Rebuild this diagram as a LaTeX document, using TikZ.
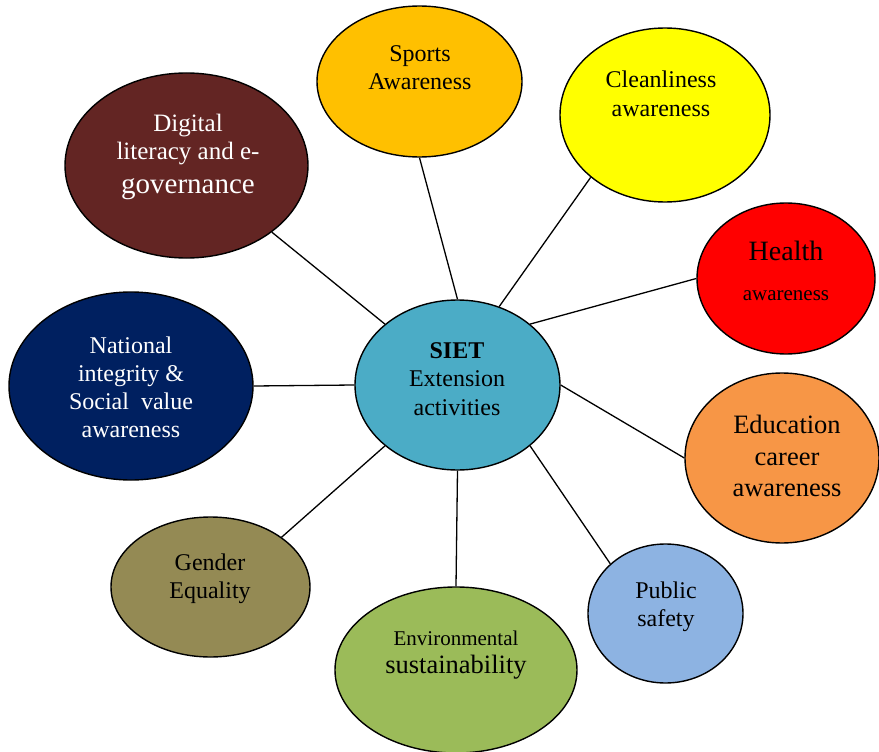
\documentclass[tikz,border=0pt]{standalone}
\usepackage{fontspec}
\setmainfont{Liberation Serif}
\usetikzlibrary{shapes.geometric}

\definecolor{sietblue}{HTML}{4BACC6}
\definecolor{sportsgold}{HTML}{FFC000}
\definecolor{cleanyellow}{HTML}{FFFF00}
\definecolor{digitalbrown}{HTML}{632523}
\definecolor{healthred}{HTML}{FF0000}
\definecolor{nationnavy}{HTML}{002060}
\definecolor{educorange}{HTML}{F79646}
\definecolor{publicblue}{HTML}{8DB3E2}
\definecolor{genderolive}{HTML}{948A54}
\definecolor{environgreen}{HTML}{9BBB59}

\newcommand{\fs}[2]{\rmfamily\fontsize{#1}{#2}\selectfont}

\begin{document}
\begin{tikzpicture}[x=1pt, y=-1pt,
  bubble/.style={ellipse, draw, line width=1.4pt, inner sep=0pt},
  txt/.style={align=center, inner sep=0pt, font=\fs{24}{28.5}},
  spoke/.style={line width=1.3pt}]
  \useasboundingbox (0,0) rectangle (879,752);

  % Centre bubble
  \node[bubble, fill=sietblue, minimum width=205, minimum height=170] (siet) at (457.5,385) {};
  \node[txt] (sietT) at (457,379) {\textbf{SIET}\\Extension\\activities};

  % Outer bubbles
  \node[bubble, fill=sportsgold, minimum width=205, minimum height=151] (sports) at (419.5,81.5) {};
  \node[txt] (sportsT) at (420,67.5) {Sports\\Awareness};

  \node[bubble, fill=cleanyellow, minimum width=210, minimum height=174] (clean) at (665,115) {};
  \node[txt] (cleanT) at (661,94) {Cleanliness\\awareness};

  \node[bubble, fill=digitalbrown, minimum width=243, minimum height=185] (digital) at (186.5,165.5) {};
  \node[txt, text=white, font=\fs{25}{28}] (digitalT) at (188,157)
    {Digital\\literacy and e-\\[6pt]{\fs{29}{34}governance}};

  \node[bubble, fill=healthred, minimum width=178, minimum height=151] (health) at (786,278.5) {};
  \node[txt] (healthT) at (786,271) {{\fs{28}{30}Health}\\[12pt]{\fs{21}{24}awareness}};

  \node[bubble, fill=nationnavy, minimum width=244, minimum height=188] (nation) at (131,386) {};
  \node[txt, text=white, font=\fs{24}{28}] (nationT) at (131,387)
    {National\\integrity \&\\Social\ \ value\\awareness};

  \node[bubble, fill=educorange, minimum width=194, minimum height=170] (educ) at (782,458) {};
  \node[txt, font=\fs{26.5}{31.5}] (educT) at (787,456) {Education\\career\\awareness};

  \node[bubble, fill=publicblue, minimum width=155, minimum height=139] (public) at (665.5,613.5) {};
  \node[txt] (publicT) at (666,607) {Public\\safety};

  \node[bubble, fill=genderolive, minimum width=199, minimum height=140] (gender) at (210.5,587) {};
  \node[txt] (genderT) at (210,579) {Gender\\Equality};

  \node[bubble, fill=environgreen, minimum width=242, minimum height=166] (environ) at (456,670) {};
  \node[txt] (environT) at (456,655) {{\fs{21}{24}Environmental}\\{\fs{26.5}{31}sustainability}};

  % Spokes from the centre
  \draw[spoke] (siet.90)   -- (sports.270);
  \draw[spoke] (siet.62)   -- (clean.220);
  \draw[spoke] (siet.40)   -- (health.180);
  \draw[spoke] (siet.0)    -- (educ.180);
  \draw[spoke] (siet.-40)  -- (public.138);
  \draw[spoke] (siet.270)  -- (environ.90);
  \draw[spoke] (siet.220)  -- (gender.35);
  \draw[spoke] (siet.180)  -- (nation.0);
  \draw[spoke] (siet.140)  -- (digital.-38);
\end{tikzpicture}
\end{document}
